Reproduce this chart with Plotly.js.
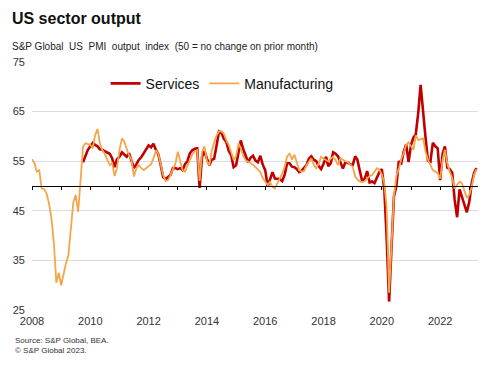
<!DOCTYPE html>
<html>
<head>
<meta charset="utf-8">
<script src="https://cdn.plot.ly/plotly-3.0.1.min.js"></script>
<style>html,body{margin:0;padding:0;background:#fff;}#chart{width:498px;height:375px;}</style>
</head>
<body>
<div id="chart"></div>
<script>
// Series names
const serviceName = 'Services';
const manufacturingName = 'Manufacturing';

// Start months of each series
const servicesStart = [2009, 10];
const manufacturingStart = [2008, 1];

// S&P Global US PMI Services output index, monthly from Oct 2009
const servicesValues = [
  54.8, 56.0, 57.3,
  58.0, 58.7, 58.3, 58.0, 57.4, 57.3, 57.0, 56.7, 56.5, 55.6, 53.8, 55.4,
  55.9, 56.8, 56.3, 55.9, 56.6, 54.9, 53.6, 54.4, 55.3, 55.8, 56.6, 57.4,
  58.2, 57.8, 58.5, 57.3, 56.4, 54.2, 51.8, 51.4, 51.8, 52.2, 53.6, 53.6,
  53.4, 53.6, 53.2, 54.4, 55.0, 56.6, 57.2, 57.5, 57.6, 49.6, 55.9, 57.0,
  55.5, 54.2, 55.3, 55.5, 58.1, 61.0, 60.8, 59.5, 58.9, 57.1, 56.2, 53.8,
  54.2, 57.1, 59.2, 57.4, 56.2, 54.8, 55.7, 56.1, 55.1, 54.8, 56.1, 54.3,
  53.2, 49.9, 51.3, 52.8, 51.5, 51.4, 51.4, 51.0, 52.3, 54.6, 54.6, 53.9,
  53.8, 53.4, 52.8, 53.1, 53.6, 54.2, 55.5, 56.0, 55.3, 55.0, 54.0, 53.4,
  54.5, 55.9, 54.0, 54.6, 56.8, 56.5, 56.0, 54.8, 53.5, 54.8, 54.7, 54.4,
  54.2, 56.0, 55.3, 53.0, 50.9, 51.5, 53.0, 50.7, 50.9, 50.6, 51.6, 52.8,
  53.4, 49.4, 39.8, 26.7, 37.5, 47.9, 50.0, 55.0, 54.6, 56.9, 58.4, 54.8,
  58.3, 59.8, 60.4, 64.7, 70.4, 64.6, 59.9, 55.1, 54.9, 58.7, 58.0, 57.6,
  51.2, 56.5, 58.0, 53.7, 53.4, 52.7, 47.3, 43.7, 49.3, 47.8, 46.2, 44.7,
  46.8, 50.6, 52.6, 53.6
];

// S&P Global US PMI Manufacturing output index, monthly from Jan 2008
const manufacturingValues = [
  55.4, 54.6, 52.9, 53.2, 49.5, 49.4, 48.5, 46.5, 43.5, 38.5, 30.5, 32.5,
  30.0, 32.4, 34.4, 36.0, 41.8, 46.6, 48.2, 44.8, 51.2, 57.9, 58.6, 58.5,
  58.3, 57.6, 60.2, 61.5, 58.5, 57.2, 56.5, 55.3, 54.2, 54.6, 52.0, 53.6,
  57.3, 59.6, 59.0, 57.5, 56.2, 55.3, 51.9, 53.6, 54.2, 53.6, 53.2, 53.6,
  54.0, 54.4, 55.5, 57.2, 56.5, 54.2, 52.2, 51.0, 51.2, 52.2, 53.2, 54.5,
  56.9, 54.6, 53.2, 52.9, 54.0, 55.3, 56.3, 57.0, 57.2, 51.0, 56.9, 58.0,
  55.0, 54.2, 57.0, 58.8, 60.2, 61.0, 61.0, 60.6, 59.2, 58.3, 56.5, 55.3,
  56.0, 58.6, 57.6, 56.0, 55.2, 54.9, 54.6, 54.3, 53.8, 53.4, 52.8, 51.6,
  51.0, 50.2, 50.8, 49.8, 49.5, 50.5, 51.6, 52.5, 53.9, 55.9, 56.6, 55.3,
  56.3, 54.6, 53.2, 52.9, 53.0, 54.2, 54.9, 55.6, 54.2, 53.6, 54.5, 55.9,
  55.5, 55.3, 55.0, 55.5, 55.9, 55.2, 54.2, 55.6, 55.2, 55.0, 54.8, 54.3,
  53.9, 51.9, 51.3, 50.9, 50.8, 51.0, 51.5, 52.0, 52.2, 52.8, 53.6, 53.3,
  52.3, 50.6, 45.8, 28.5, 38.0, 48.0, 52.0, 53.5, 55.5, 56.6, 58.3, 58.8,
  58.0, 57.3, 60.2, 59.3, 59.4, 59.6, 57.0, 55.3, 54.2, 53.2, 52.9, 52.6,
  51.5, 55.3, 57.3, 54.5, 52.9, 51.6, 49.5, 50.2, 50.9, 50.5, 48.8, 47.6,
  48.2, 49.9, 52.2, 53.4
];

// Axis ticks
const yTicks = [25, 35, 45, 55, 65, 75];
const xTickYears = ['2008', '2010', '2012', '2014', '2016', '2018', '2020', '2022'];

function monthDates(start, n) {
  const out = [];
  let y = start[0], m = start[1];
  for (let i = 0; i < n; i++) {
    out.push(y + '-' + String(m).padStart(2, '0') + '-01');
    m++; if (m > 12) { m = 1; y++; }
  }
  return out;
}

const servicesDates = monthDates(servicesStart, servicesValues.length);
const manufacturingDates = monthDates(manufacturingStart, manufacturingValues.length);

const FONT = 'Liberation Sans, Arial, sans-serif';

const traces = [
  {
    x: servicesDates, y: servicesValues, name: serviceName,
    type: 'scatter', mode: 'lines',
    line: {color: '#C00000', width: 2.6}
  },
  {
    x: manufacturingDates, y: manufacturingValues, name: manufacturingName,
    type: 'scatter', mode: 'lines',
    line: {color: '#F5A54A', width: 1.8}
  },
  {
    x: [manufacturingDates[0]], y: [50], xaxis: 'x2', yaxis: 'y',
    type: 'scatter', mode: 'markers', marker: {opacity: 0},
    showlegend: false, hoverinfo: 'skip'
  }
];

const layout = {
  width: 498, height: 375,
  margin: {l: 32, r: 20, t: 62, b: 65},
  paper_bgcolor: '#ffffff', plot_bgcolor: '#ffffff',
  font: {family: FONT, color: '#222'},
  title: {
    text: '<b>US sector output</b>',
    font: {family: FONT, size: 16, color: '#111'},
    x: 0.024, xanchor: 'left', xref: 'container',
    y: 0.952, yanchor: 'middle', yref: 'container'
  },
  showlegend: true,
  legend: {
    orientation: 'h', x: 0.165, xanchor: 'left', y: 0.912, yanchor: 'middle',
    font: {family: FONT, size: 14, color: '#111'},
    bgcolor: 'rgba(0,0,0,0)', itemwidth: 30, traceorder: 'normal'
  },
  xaxis: {
    type: 'date', range: ['2008-01-01', '2023-04-20'],
    tickvals: xTickYears.map(y => y + '-01-01'), ticktext: xTickYears,
    showgrid: false, zeroline: false, showline: false, ticks: '',
    tickfont: {family: FONT, size: 11, color: '#333'},
    ticklabelstandoff: 3
  },
  xaxis2: {
    type: 'date', overlaying: 'x', anchor: 'free', position: 0.5,
    range: ['2008-01-01', '2023-04-20'],
    showline: true, linecolor: '#000', linewidth: 1,
    ticks: 'outside', ticklen: 3, tickcolor: '#000', tickwidth: 1,
    tick0: '2008-01-01', dtick: 'M12',
    showticklabels: false, showgrid: false, zeroline: false
  },
  yaxis: {
    range: [25, 75], tickvals: yTicks,
    gridcolor: '#dcdcdc', gridwidth: 1, zeroline: false, showline: false, ticks: '',
    tickfont: {family: FONT, size: 11, color: '#333'},
    ticklabelstandoff: 6
  },
  annotations: [
    {
      text: 'S&P Global  US  PMI  output  index  (50 = no change on prior month)',
      xref: 'paper', yref: 'paper', x: -0.049, y: 1.062,
      xanchor: 'left', yanchor: 'middle', showarrow: false,
      font: {family: FONT, size: 10, color: '#222'}
    },
    {
      text: 'Source: S&P Global, BEA.<br>© S&P Global 2023.',
      xref: 'paper', yref: 'paper', x: -0.042, y: -0.097,
      xanchor: 'left', yanchor: 'top', showarrow: false, align: 'left',
      font: {family: FONT, size: 8, color: '#333'}
    }
  ]
};

Plotly.newPlot('chart', traces, layout, {displayModeBar: false, staticPlot: true});
</script>
</body>
</html>
